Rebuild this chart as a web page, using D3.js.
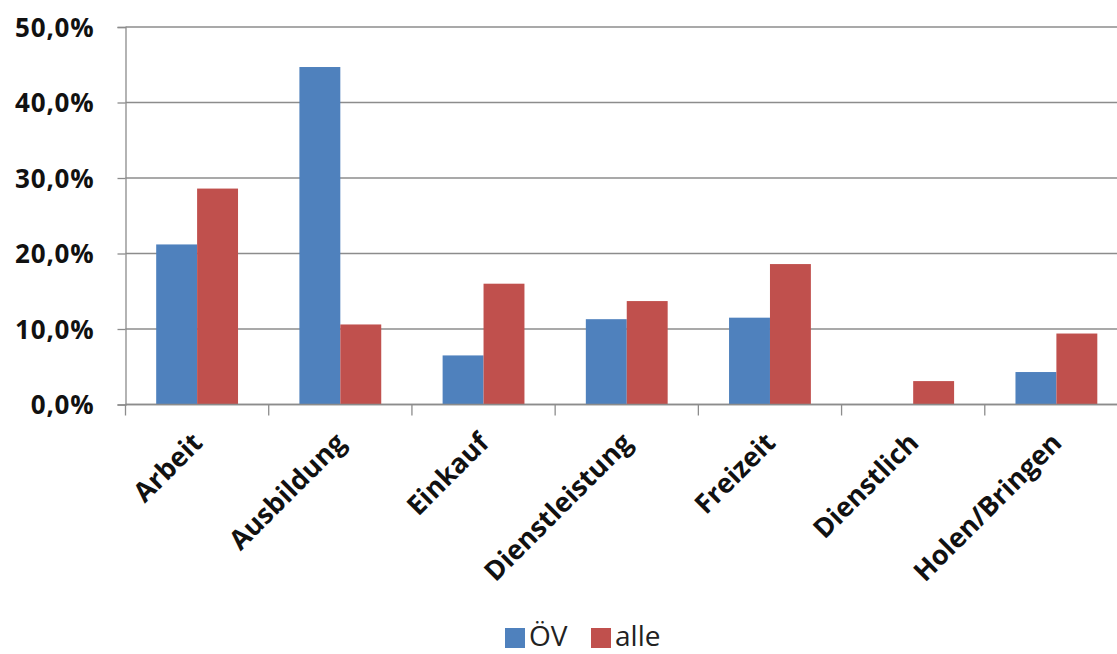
<!DOCTYPE html>
<html>
<head>
<meta charset="utf-8">
<script src="https://cdn.jsdelivr.net/npm/d3@7"></script>
<style>
  html, body { margin: 0; padding: 0; background: #fff; }
  svg { display: block; }
  text { font-family: "Open Sans", "DejaVu Sans", sans-serif; }
</style>
</head>
<body>
<svg id="chart" width="1117" height="654"></svg>
<script>
// Anteil der Wege nach Zweck
const categories = ["Arbeit", "Ausbildung", "Einkauf", "Dienstleistung", "Freizeit", "Dienstlich", "Holen/Bringen"];
const seriesNames = ["ÖV", "alle"];
const valuesOEV  = [21.2, 44.7, 6.5, 11.3, 11.5, 0.0, 4.3];
const valuesAlle = [28.6, 10.6, 16.0, 13.7, 18.6, 3.1, 9.4];
const yTicks = [0, 10, 20, 30, 40, 50];
const colors = ["#4F81BD", "#C0504D"];

const svg = d3.select("#chart");
const plotLeft = 125.5, plotRight = 1128, plotTop = 27, plotBottom = 404.5;
const gridColor = "#8c8c8c";

const x = d3.scaleBand().domain(categories).range([plotLeft, plotRight]).paddingInner(0).paddingOuter(0);
const xInner = d3.scaleBand().domain(seriesNames).range([0, x.bandwidth()]).paddingInner(0).paddingOuter(0.75);
const y = d3.scaleLinear().domain([0, 50]).range([plotBottom, plotTop]);

const fmt = v => d3.format(".1f")(v).replace(".", ",") + "%";

// horizontal gridlines
svg.append("g")
  .selectAll("line")
  .data(yTicks)
  .join("line")
  .attr("x1", plotLeft).attr("x2", 1117)
  .attr("y1", d => y(d)).attr("y2", d => y(d))
  .attr("stroke", gridColor).attr("stroke-width", 1.3);

// bars
const rows = categories.map((c, i) => ({ cat: c, vals: [valuesOEV[i], valuesAlle[i]] }));
const groups = svg.append("g").selectAll("g")
  .data(rows).join("g")
  .attr("transform", d => `translate(${x(d.cat)},0)`);
groups.selectAll("rect")
  .data(d => d.vals.map((v, j) => ({ s: seriesNames[j], v, j })))
  .join("rect")
  .attr("x", d => xInner(d.s))
  .attr("width", xInner.bandwidth())
  .attr("y", d => y(d.v))
  .attr("height", d => y(0) - y(d.v))
  .attr("fill", d => colors[d.j]);

// y axis
const yAxis = d3.axisLeft(y).tickValues(yTicks).tickFormat(fmt).tickSize(8).tickPadding(23);
const gy = svg.append("g").attr("transform", `translate(${plotLeft},0)`).call(yAxis);
gy.select(".domain").attr("stroke", gridColor).attr("stroke-width", 1.3);
gy.selectAll(".tick line").attr("stroke", gridColor).attr("stroke-width", 1.3);
gy.selectAll(".tick text")
  .attr("font-size", 26).attr("font-weight", "bold").attr("fill", "#111")
  .attr("font-family", "'Open Sans', sans-serif")
  .attr("letter-spacing", "0.8px")
  .attr("dy", "0.36em");

// x axis line and ticks at band boundaries
svg.append("line")
  .attr("x1", plotLeft).attr("x2", 1117).attr("y1", plotBottom).attr("y2", plotBottom)
  .attr("stroke", gridColor).attr("stroke-width", 1.3);
const bounds = categories.map(c => x(c));
svg.append("g").selectAll("line")
  .data(bounds).join("line")
  .attr("x1", d => d).attr("x2", d => d)
  .attr("y1", plotBottom).attr("y2", plotBottom + 11)
  .attr("stroke", gridColor).attr("stroke-width", 1.3);

// rotated category labels
svg.append("g").selectAll("text")
  .data(categories).join("text")
  .attr("transform", d => `translate(${x(d) + x.bandwidth() / 2 + 7},${plotBottom + 40}) rotate(-45)`)
  .attr("text-anchor", "end")
  .attr("font-size", 27).attr("font-weight", "bold").attr("fill", "#111")
  .text(d => d);

// legend
const legendItems = [
  { name: seriesNames[0], color: colors[0], x: 505 },
  { name: seriesNames[1], color: colors[1], x: 591 }
];
const lg = svg.append("g");
lg.selectAll("rect").data(legendItems).join("rect")
  .attr("x", d => d.x).attr("y", 628).attr("width", 20).attr("height", 20)
  .attr("fill", d => d.color);
lg.selectAll("text").data(legendItems).join("text")
  .attr("x", d => d.x + 24).attr("y", 646)
  .attr("font-size", 28).attr("fill", "#222")
  .text(d => d.name);
</script>
</body>
</html>
